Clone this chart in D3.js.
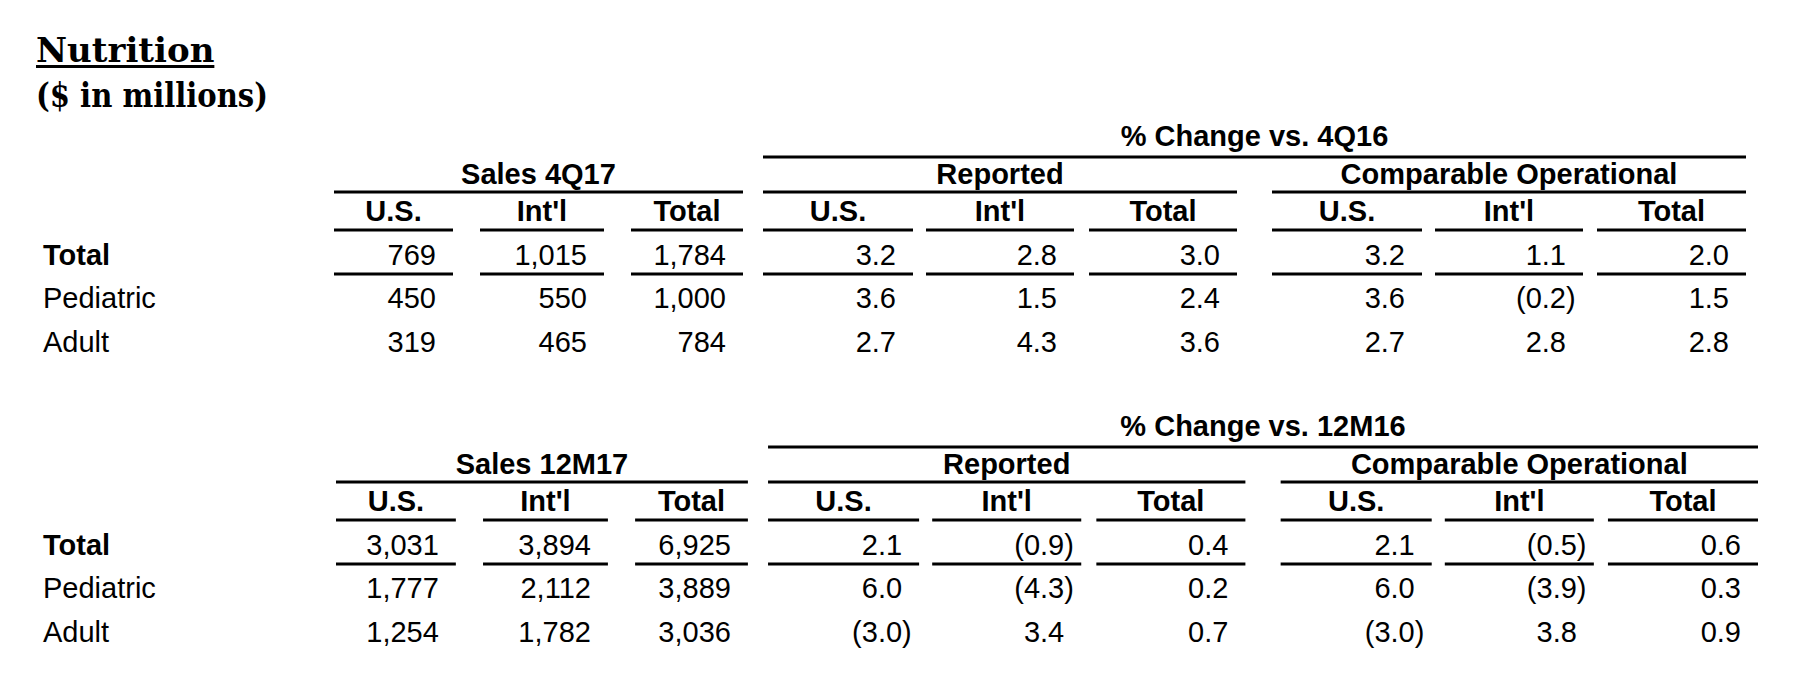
<!DOCTYPE html>
<html>
<head>
<meta charset="utf-8">
<script src="https://cdn.jsdelivr.net/npm/d3@7/dist/d3.min.js"></script>
<style>
body { margin: 0; background: #fff; }
text { fill: #000; }
</style>
</head>
<body>
<div id="chart"></div>
<script>
// row / column labels
var rowLabels = ["Total", "Pediatric", "Adult"]
var colLabels = ["U.S.", "Int'l", "Total"]
var groupLabels = ["Reported", "Comparable Operational"]

// 4Q17
var sales4Q17 = [[769, 1015, 1784], [450, 550, 1000], [319, 465, 784]]
var reported4Q = [[3.2, 2.8, 3.0], [3.6, 1.5, 2.4], [2.7, 4.3, 3.6]]
var compOp4Q = [[3.2, 1.1, 2.0], [3.6, -0.2, 1.5], [2.7, 2.8, 2.8]]

// 12M17
var sales12M17 = [[3031, 3894, 6925], [1777, 2112, 3889], [1254, 1782, 3036]]
var reported12M = [[2.1, -0.9, 0.4], [6.0, -4.3, 0.2], [-3.0, 3.4, 0.7]]
var compOp12M = [[2.1, -0.5, 0.6], [6.0, -3.9, 0.3], [-3.0, 3.8, 0.9]]

var width = 1795, height = 689
var sansFont = "Arial, 'Liberation Sans', sans-serif"
var fs = 29

var svg = d3.select("#chart").append("svg")
    .attr("width", width)
    .attr("height", height)

// title
var title = svg.append("g").attr("font-family", "'DejaVu Serif', serif").attr("font-weight", "bold")
title.append("text").attr("x", 36).attr("y", 62).attr("font-size", 34).text("Nutrition")
var tw = title.select("text").node().getComputedTextLength()
title.append("rect").attr("x", 36).attr("y", 65).attr("width", tw).attr("height", 3)
title.append("text").attr("x", 36).attr("y", 107).attr("font-size", 34)
    .attr("textLength", 232).attr("lengthAdjust", "spacingAndGlyphs")
    .text("($ in millions)")

// column spans, in top-table pixels
var cols = [[334, 453], [480, 604], [631, 743],
            [763, 913], [926, 1074], [1089, 1237],
            [1272, 1422], [1435, 1583], [1597, 1746]]

var fmtSales = d3.format(",")
var fmtPct = d3.format(".1f")

function hline(g, x0, x1, y) {
    g.append("rect").attr("x", x0).attr("y", y - 1.5)
        .attr("width", x1 - x0).attr("height", 3).attr("fill", "#000")
}

function draw_table(cfg) {
    var g = svg.append("g")
        .attr("transform", "translate(0," + cfg.dy + ")")
        .attr("font-family", sansFont)
        .attr("font-size", fs)

    // stretch of the column layout
    var sx = d3.scaleLinear().domain([334, 1746]).range(cfg.xr)
    var c = cols.map(function (d) { return [sx(d[0]), sx(d[1])] })

    // super header
    g.append("text").attr("x", (c[3][0] + c[8][1]) / 2).attr("y", 146)
        .attr("text-anchor", "middle").attr("font-weight", "bold").text(cfg.change)
    hline(g, c[3][0], c[8][1], 157)

    // group headers
    var groups = [[cfg.sales, c[0][0], c[2][1]],
                  [groupLabels[0], c[3][0], c[5][1]],
                  [groupLabels[1], c[6][0], c[8][1]]]
    groups.forEach(function (d) {
        g.append("text").attr("x", (d[1] + d[2]) / 2).attr("y", 184)
            .attr("text-anchor", "middle").attr("font-weight", "bold").text(d[0])
        hline(g, d[1], d[2], 192)
    })

    // column headers
    c.forEach(function (d, i) {
        g.append("text").attr("x", (d[0] + d[1]) / 2).attr("y", 221)
            .attr("text-anchor", "middle").attr("font-weight", "bold").text(colLabels[i % 3])
        hline(g, d[0], d[1], 230)
        hline(g, d[0], d[1], 274)
    })

    var rowY = [265, 308, 352]
    rowLabels.forEach(function (r, j) {
        g.append("text").attr("x", 43).attr("y", rowY[j])
            .attr("font-weight", j === 0 ? "bold" : "normal").text(r)
    })

    var blocks = [[cfg.salesData, fmtSales], [cfg.rep, fmtPct], [cfg.comp, fmtPct]]
    blocks.forEach(function (b, bi) {
        b[0].forEach(function (row, j) {
            row.forEach(function (v, k) {
                var xr = c[bi * 3 + k][1] - 17
                var s = b[1](Math.abs(v))
                g.append("text").attr("x", xr).attr("y", rowY[j])
                    .attr("text-anchor", "end").text(v < 0 ? "(" + s : s)
                if (v < 0) {
                    g.append("text").attr("x", xr).attr("y", rowY[j]).text(")")
                }
            })
        })
    })
}

draw_table({ dy: 0, xr: [334, 1746], change: "% Change vs. 4Q16", sales: "Sales 4Q17",
    salesData: sales4Q17, rep: reported4Q, comp: compOp4Q })
draw_table({ dy: 290, xr: [336, 1758], change: "% Change vs. 12M16", sales: "Sales 12M17",
    salesData: sales12M17, rep: reported12M, comp: compOp12M })
</script>
</body>
</html>
